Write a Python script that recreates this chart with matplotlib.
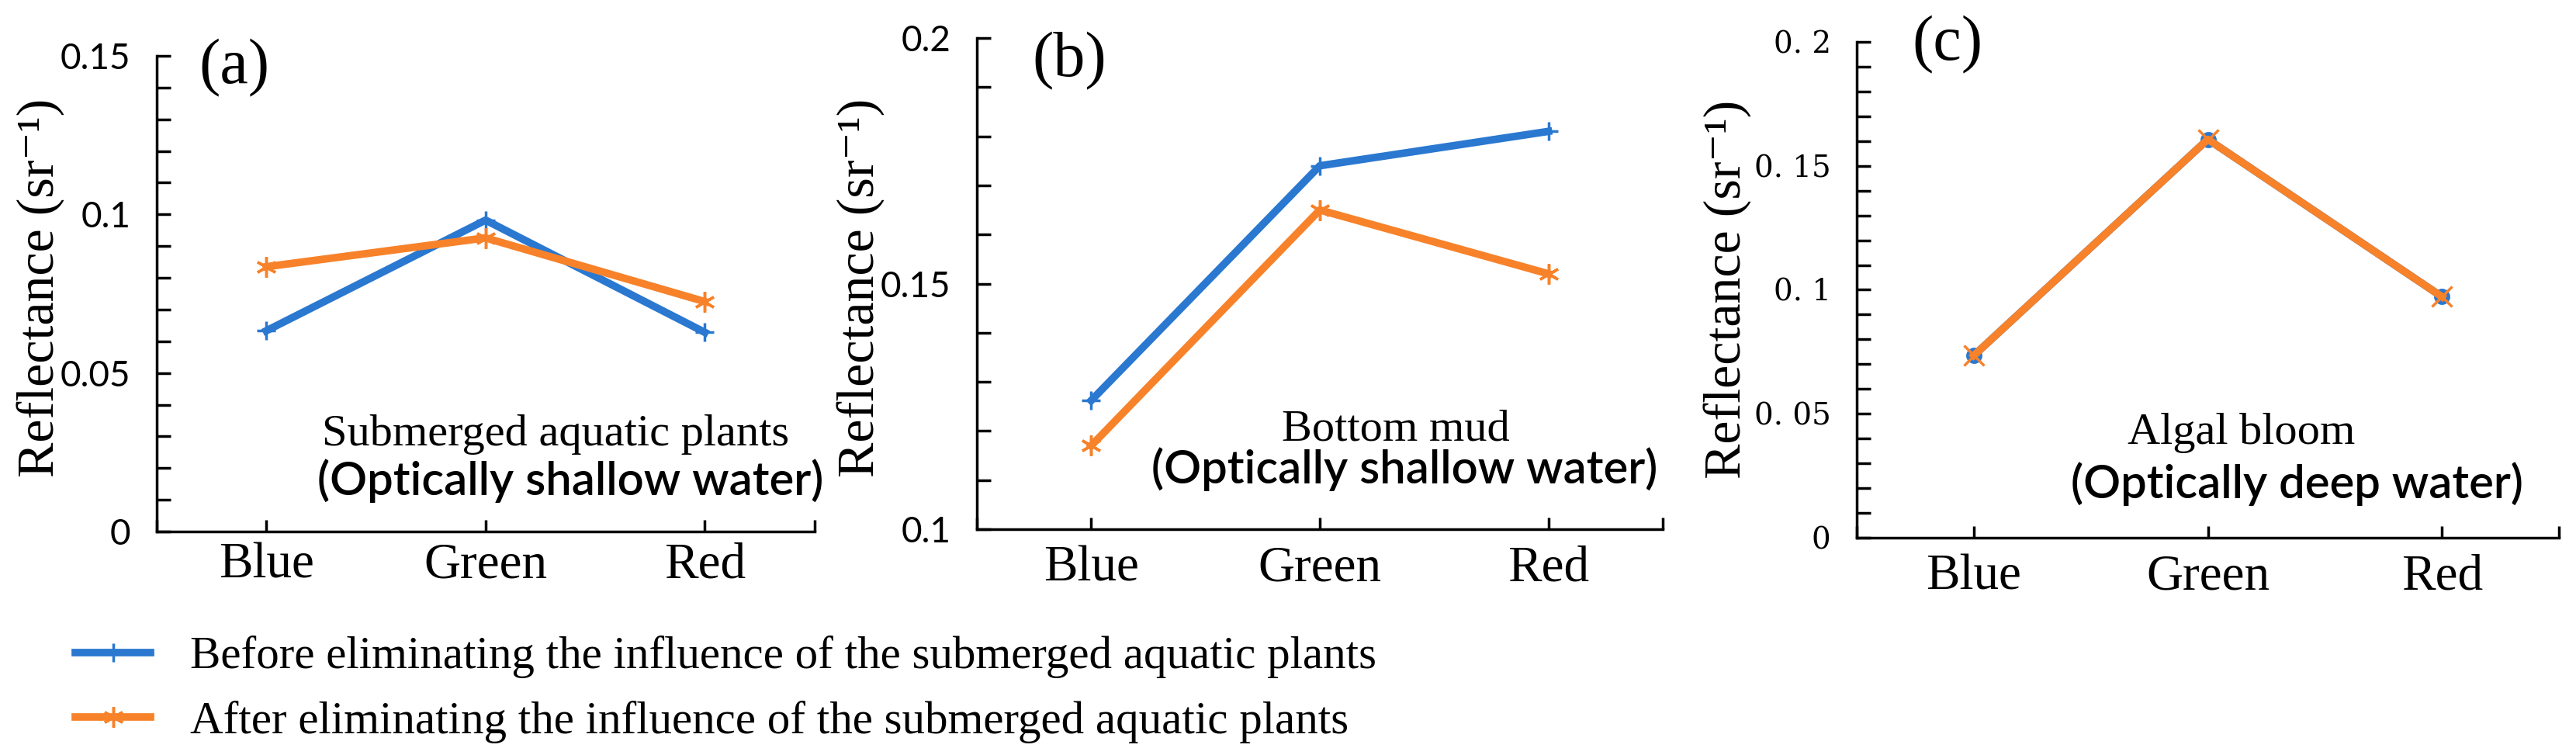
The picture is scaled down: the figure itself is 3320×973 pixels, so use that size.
import matplotlib
matplotlib.use('Agg')
import matplotlib.pyplot as plt
from matplotlib.ticker import MultipleLocator, FixedLocator

# bands on the x axis
bands = ['Blue', 'Green', 'Red']

# (a) submerged aquatic plants
before_a = [0.0633, 0.0982, 0.0628]
after_a = [0.0835, 0.0926, 0.0725]
# (b) bottom mud
before_b = [0.1262, 0.1740, 0.1810]
after_b = [0.1170, 0.1650, 0.1520]
# (c) algal bloom
before_c = [0.0735, 0.1607, 0.0972]
after_c = [0.0735, 0.1607, 0.0972]

yticks_a = [0, 0.05, 0.1, 0.15]
ylabels_a = ['0', '0.05', '0.1', '0.15']
yticks_b = [0.1, 0.15, 0.2]
ylabels_b = ['0.1', '0.15', '0.2']
yticks_c = [0, 0.05, 0.1, 0.15, 0.2]
ylabels_c = ['0', '0. 05', '0. 1', '0. 15', '0. 2']

legend_labels = ['Before eliminating the influence of the submerged aquatic plants',
                 'After eliminating the influence of the submerged aquatic plants']

BLUE = '#2A78D0'
ORANGE = '#F7822A'
SERIF = ['Liberation Serif', 'DejaVu Serif']
SANS = ['Lato', 'Liberation Sans']


def style_axis(ax, ylim, yticks, ylabels, yfont, yfs, xpad):
    x = range(1, len(bands) + 1)
    ax.set_xlim(0.5, len(bands) + 0.5)
    ax.set_ylim(*ylim)
    ax.spines['top'].set_visible(False)
    ax.spines['right'].set_visible(False)
    for s in ['left', 'bottom']:
        ax.spines[s].set_linewidth(2.5)
    ax.set_xticks(list(x))
    ax.set_xticklabels(bands, family=SERIF, fontsize=47)
    ax.xaxis.set_minor_locator(FixedLocator([0.5, len(bands) + 0.5]))
    ax.set_yticks(yticks)
    ax.set_yticklabels(ylabels, family=yfont, fontsize=yfs)
    ax.yaxis.set_minor_locator(MultipleLocator(0.01))
    ax.tick_params(axis='y', which='both', direction='in', length=13, width=2.5, pad=24)
    ax.tick_params(axis='x', which='both', direction='in', length=11, width=2.5, pad=xpad)


def graph():
    fig = plt.figure(figsize=(33.2, 9.73), dpi=100)

    ax1 = fig.add_axes([0.0608, 0.296, 0.2554, 0.630])
    ax2 = fig.add_axes([0.3792, 0.299, 0.2663, 0.6506])
    ax3 = fig.add_axes([0.7208, 0.2878, 0.2726, 0.6567])

    x = list(range(1, len(bands) + 1))
    lw = 7

    # (a)
    l1, = ax1.plot(x, before_a, color=BLUE, lw=lw, marker='+', ms=17, mew=2.5)
    l2, = ax1.plot(x, after_a, color=ORANGE, lw=lw, marker=(6, 2, 0), ms=19, mew=2.5)
    style_axis(ax1, (0, 0.15), yticks_a, ylabels_a, SANS, 33, 10)

    # (b)
    ax2.plot(x, before_b, color=BLUE, lw=lw, marker='+', ms=17, mew=2.5)
    ax2.plot(x, after_b, color=ORANGE, lw=lw, marker=(6, 2, 0), ms=19, mew=2.5)
    style_axis(ax2, (0.1, 0.2), yticks_b, ylabels_b, SANS, 33, 15)

    # (c)
    ax3.plot(x, before_c, color=BLUE, lw=lw, marker='o', ms=14)
    ax3.plot(x, after_c, color=ORANGE, lw=lw, marker='x', ms=19, mew=2.5)
    style_axis(ax3, (0, 0.2), yticks_c, ylabels_c, 'DejaVu Serif', 28, 15)

    # panel letters
    ax1.text(0.118, 0.974, '(a)', transform=ax1.transAxes, ha='center', va='center',
             family=SERIF, fontsize=59)
    ax2.text(0.135, 0.954, '(b)', transform=ax2.transAxes, ha='center', va='center',
             family=SERIF, fontsize=59)
    ax3.text(0.129, 0.995, '(c)', transform=ax3.transAxes, ha='center', va='center',
             family=SERIF, fontsize=59)

    # descriptions
    ax1.text(0.607, 0.181, 'Submerged aquatic plants', transform=ax1.transAxes,
             ha='center', va='baseline', family=SERIF, fontsize=42)
    ax1.text(0.6285, 0.077, '(Optically shallow water)', transform=ax1.transAxes,
             ha='center', va='baseline', family=SANS, fontsize=43, weight='semibold')
    ax2.text(0.611, 0.1817, 'Bottom mud', transform=ax2.transAxes,
             ha='center', va='baseline', family=SERIF, fontsize=42)
    ax2.text(0.623, 0.093, '(Optically shallow water)', transform=ax2.transAxes,
             ha='center', va='baseline', family=SANS, fontsize=43, weight='semibold')
    ax3.text(0.548, 0.189, 'Algal bloom', transform=ax3.transAxes,
             ha='center', va='baseline', family=SERIF, fontsize=42)
    ax3.text(0.6265, 0.080, '(Optically deep water)', transform=ax3.transAxes,
             ha='center', va='baseline', family=SANS, fontsize=43, weight='semibold')

    # y labels
    ylab = 'Reflectance (sr\u207b\u00b9)'
    for xf, yf in [(0.016, 0.6187), (0.3343, 0.6187), (0.6708, 0.6167)]:
        fig.text(xf, yf, ylab, rotation=90, ha='center', va='center',
                 family=SERIF, fontsize=49)

    fig.legend([l1, l2], legend_labels, loc='center left', bbox_to_anchor=(0.0292, 0.0868),
               frameon=False, prop={'family': SERIF, 'size': 42.5}, handlelength=1.65,
               handletextpad=0.85, borderpad=0, borderaxespad=0, labelspacing=0.48)

    plt.savefig('out.png', dpi=100)


if __name__ == '__main__':
    graph()
